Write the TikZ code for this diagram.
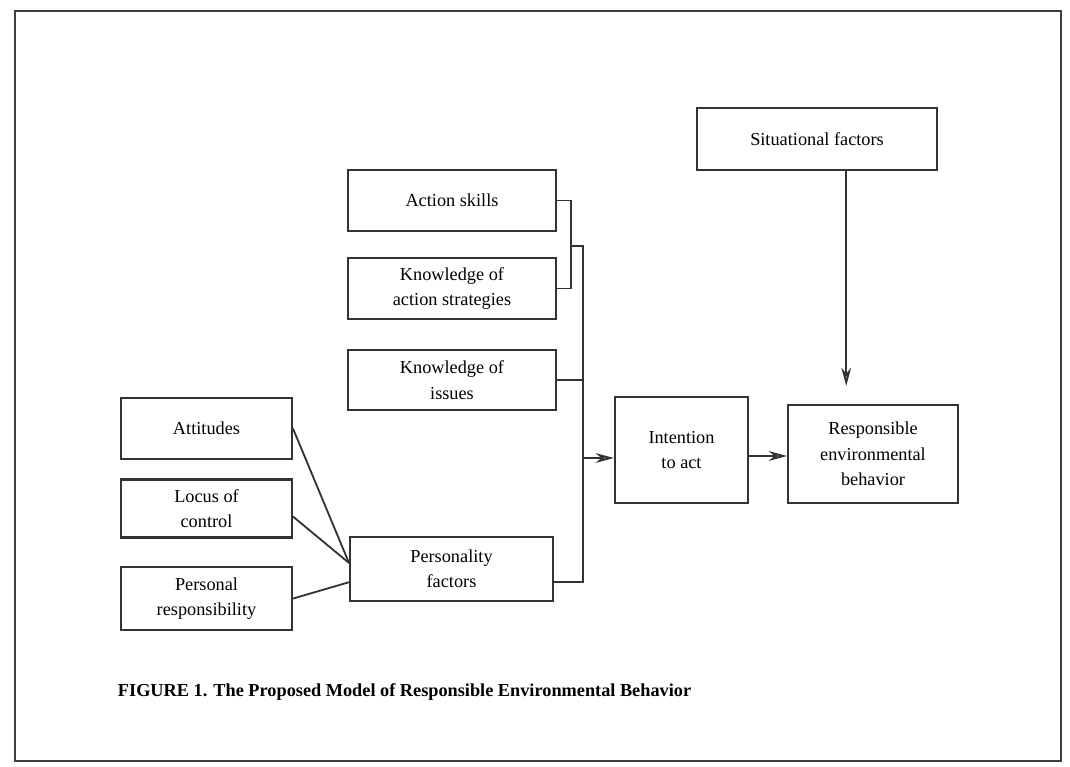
\documentclass[tikz,border=0pt]{standalone}
\usepackage{fontspec}
\setmainfont{Liberation Serif}
\usetikzlibrary{arrows.meta}

\begin{document}
\begin{tikzpicture}[x=0.025cm, y=-0.025cm]

% definitions
\tikzstyle{factor} = [rectangle, minimum width=5.2cm, minimum height=1.53cm, text centered, align=center, draw=black!80, line width=1.5pt, font=\fontsize{13}{18}\selectfont]

\tikzstyle{trait} = [factor, minimum width=4.27cm]

\tikzstyle{outcome} = [factor, minimum width=4.25cm, minimum height=2.45cm]

\tikzstyle{line} = [draw=black!80, line width=1.3pt]

\tikzstyle{arrow} = [line, ->, >={Stealth[length=13pt, width=7pt, fill=gray!60]}]

\useasboundingbox (0,0) rectangle (1070,767);
\draw [draw=black!75, line width=1.4pt] (15,11) rectangle (1061,761);

% the graph
\node (l0) [trait] at (206.5,428.5) {Attitudes};

\node (l1) [trait, below of=l0, yshift=-1cm, minimum height=1.45cm] {Locus of\\control};

\node (l2) [trait, below of=l1, yshift=-1.25cm, minimum height=1.58cm] {Personal\\responsibility};

\node (l3) [factor, minimum width=5.07cm, minimum height=1.6cm] at (451.5,569) {Personality\\factors};

\node (l4) [factor] at (452,200.5) {Action skills};

\node (l5) [factor, below of=l4, yshift=-1.2cm] {Knowledge of\\action strategies};

\node (l6) [factor, below of=l5, yshift=-1.29cm, minimum height=1.5cm] {Knowledge of\\issues};

\node (l7) [outcome, minimum width=3.33cm, minimum height=2.65cm] at (681.5,450) {Intention\\to act};

\node (l8) [factor, minimum width=6cm, minimum height=1.55cm] at (817,139) {Situational factors};

\node (l9) [outcome] at (873,454) {Responsible\\environmental\\behavior};

\node (cap) [anchor=west, font=\fontsize{13}{15}\selectfont\bfseries] at (113,692) {FIGURE 1. The Proposed Model of Responsible Environmental Behavior};

\coordinate (br) at (570,246);
\coordinate (bus) at (583,246);
\coordinate (pf) at ([yshift=-0.33cm]l3.east);
\coordinate (in) at ([yshift=-0.2cm]l7.west);
\coordinate (out) at ([yshift=-0.15cm]l7.east);
\coordinate (sit) at ([xshift=0.73cm]l8.south);

\draw [line] (l4.east) -- ++(14,0) |- (l5.east);
\draw [line] (br) -- (bus) |- (pf);
\draw [line] (l6.east) -- (l6.east -| bus);
\draw [line] (l0.east) -- ([yshift=0.15cm]l3.west);
\draw [line] ([yshift=-0.2cm]l1.east) -- ([yshift=0.15cm]l3.west);
\draw [line] (l2.east) -- ([yshift=-0.33cm]l3.west);

\draw [arrow] (in -| bus) -- (in);
\draw [arrow] (out) -- (out -| l9.west);
\draw [arrow, shorten >=0.45cm] (sit) -- (sit |- l9.north);

\end{tikzpicture}
\end{document}
